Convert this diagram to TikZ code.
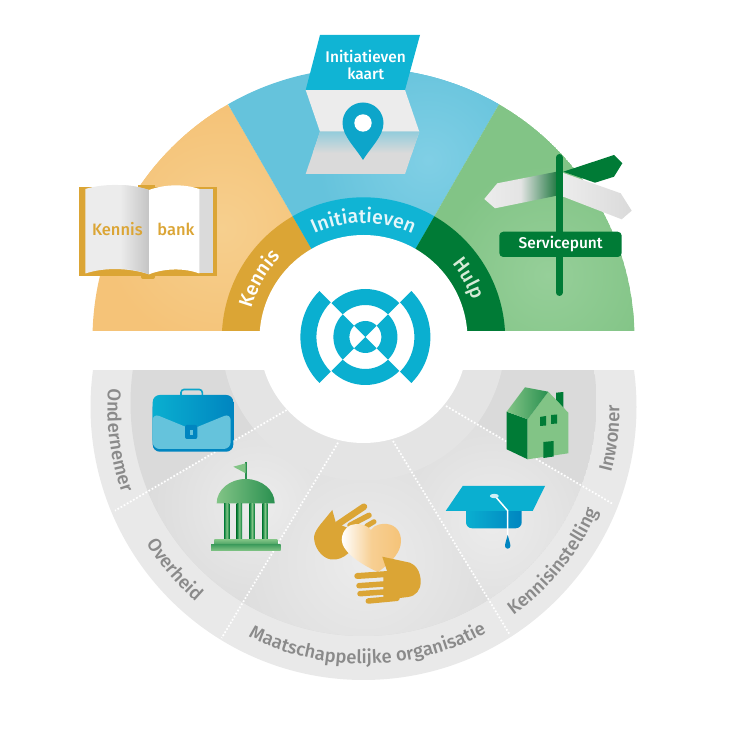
\documentclass[tikz,border=0pt]{standalone}
\usepackage{fontspec}
\setmainfont{Fira Sans Medium}
\usetikzlibrary{decorations.text}
\definecolor{orangeS}{HTML}{F5C378}
\definecolor{orangeL}{HTML}{F6CF8E}
\definecolor{blueS}{HTML}{65C3DC}
\definecolor{blueL}{HTML}{80CFE5}
\definecolor{greenS}{HTML}{82C486}
\definecolor{greenL}{HTML}{96CF99}
\definecolor{gold}{HTML}{DBA535}
\definecolor{cyanB}{HTML}{10B4D4}
\definecolor{logoC}{HTML}{0AAFD0}
\definecolor{darkG}{HTML}{007B36}
\definecolor{midG}{HTML}{2A9050}
\definecolor{deepB}{HTML}{0085C0}
\definecolor{pinB}{HTML}{0DA5CA}
\definecolor{grayA}{HTML}{E9E9E9}
\definecolor{grayB}{HTML}{DADADA}
\definecolor{grayC}{HTML}{E4E4E4}
\definecolor{grayS}{HTML}{ECECEC}
\definecolor{grayT}{HTML}{8A8A8A}
\definecolor{paleT}{HTML}{E4F6FA}
\definecolor{paleG}{HTML}{D5EBD6}
\newcommand{\sect}[3]{(363.5,339) -- +(#1:#3) arc[start angle=#1,end angle=#2,radius=#3] -- cycle}
\newcommand{\annu}[4]{(#1:#4) arc[start angle=#1,end angle=#2,radius=#4] -- (#2:#3) arc[start angle=#2,end angle=#1,radius=#3] -- cycle}
\newcommand{\glowsect}[7]{\begin{scope}\clip \sect{#1}{#2}{271};\fill[#3] \sect{#1}{#2}{271};\shade[inner color=#4,outer color=#3] (#5,#6) circle (#7);\end{scope}}
\newcommand{\glow}[3]{\shade[inner color=grayS,outer color=grayB] (#1,#2) circle (#3);}
\tikzset{
  dotline/.style={white,line width=1.7,dash pattern=on 1.7 off 1.9},
  finger/.style={gold,line cap=round},
  bandtext/.style={decorate,decoration={text along path,text align=center,text={#1}}},
}
\newcommand{\bandW}{\fontsize{19.5}{19.5}\selectfont\color{white}}
\newcommand{\bandP}{\fontsize{19.5}{19.5}\selectfont\color{paleT}}
\newcommand{\bandG}{\fontsize{19.5}{19.5}\selectfont\color{paleG}}
\newcommand{\lowT}{\fontsize{18.5}{18.5}\selectfont\color{grayT}}
\begin{document}
\begin{tikzpicture}[x=1pt,y=1pt]
\useasboundingbox (0,0) rectangle (732,732);
\begin{scope}[yscale=-1,shift={(0,-732)}]
% ---- top half
\begin{scope}
\clip (0,0) rectangle (732,331.5);
\glowsect{-180}{-120}{orangeS}{orangeL}{222}{228}{120}
\glowsect{-120}{-60}{blueS}{blueL}{428}{160}{110}
\glowsect{-60}{0}{greenS}{greenL}{548}{275}{110}
\fill[gold] \sect{-180}{-120}{141.7};
\fill[cyanB] \sect{-120}{-60}{141.7};
\fill[darkG] \sect{-60}{0}{141.7};
\end{scope}
% ---- bottom half
\begin{scope}
\clip (0,370) rectangle (732,732);
\fill[grayA] (363.5,407) circle (273);
\begin{scope}
\clip (363.5,403) circle (233);
\fill[grayB] (363.5,403) circle (233);
\begin{scope}
\clip (286.7,410) -- (115,510.7) -- (221.7,638) -- (338,442.7) -- cycle;
\glow{258}{505}{125}
\end{scope}
\begin{scope}
\clip (338,442.7) -- (221.7,638) -- (510,635) -- (393,441) -- cycle;
\glow{365}{560}{165}
\end{scope}
\begin{scope}
\clip (393,441) -- (510,635) -- (613,504) -- (446,406) -- cycle;
\glow{492}{522}{135}
\end{scope}
\end{scope}
\fill[grayC] (363.5,339) circle (141.7);
\end{scope}
\draw[dotline] (286.7,410) -- (115,510.7);
\draw[dotline] (338,442.7) -- (221.7,638);
\draw[dotline] (393,441) -- (510,635);
\draw[dotline] (446,406) -- (613,504);
\fill[white] (363.5,339) circle (104);
\fill[white] (0,331.5) rectangle (732,370);
% ---- logo
\begin{scope}[shift={(365.4,337)}]
\fill[logoC] \annu{-135}{-45}{0.01}{16};
\fill[logoC] \annu{45}{135}{0.01}{16};
\fill[logoC] \annu{-135}{-45}{32}{48};
\fill[logoC] \annu{45}{135}{32}{48};
\fill[logoC] \annu{-45}{45}{16}{32};
\fill[logoC] \annu{135}{225}{16}{32};
\fill[logoC] \annu{-45}{45}{49}{65};
\fill[logoC] \annu{135}{225}{49}{65};
\end{scope}
% ---- book
\fill[gold] (78.7,186.7) rectangle (216.7,276);
\fill[gold] (138,185) rectangle (155,190);
\fill[gold,rounded corners=2] (141,274) rectangle (155,279);
\fill[grayB] (199.3,189) rectangle (213.3,273.5);
\fill[grayS] (85.3,189) .. controls (105,183) and (130,184) .. (149,190) -- (149,274.3) .. controls (130,268) and (105,267) .. (85.3,273.5) -- cycle;
\shade[left color=grayS,right color=grayB!90!black] (120,185) .. controls (130,185) and (140,187) .. (149,190) -- (149,274.3) .. controls (140,271) and (130,269) .. (120,268.5) -- cycle;
\fill[white] (149,190) .. controls (165,184) and (185,184) .. (199.3,189) -- (199.3,273.5) .. controls (185,268) and (165,268) .. (149,274.3) -- cycle;
\node[gold,font=\fontsize{16.5}{16.5}\selectfont] (bookL) at (117.3,229) {Kennis};
\node[gold,font=\fontsize{16.5}{16.5}\selectfont] (bookR) at (176,229) {bank};
% ---- map
\fill[grayS] (305.7,90) -- (405,90) -- (419.3,131.7) -- (320,131.7) -- cycle;
\fill[grayB] (320,131.7) -- (419.3,131.7) -- (405,174) -- (305.7,174) -- cycle;
\shade[top color=blueS!60!grayB,bottom color=grayB] (320,131.7) -- (419.3,131.7) -- (412,153) -- (312.8,153) -- cycle;
\fill[cyanB] (320,35) -- (420,35) -- (405,90) -- (305.7,90) -- cycle;
\node[white,font=\fontsize{15.5}{15.5}\selectfont] (mapA) at (365.7,56) {Initiatieven};
\node[white,font=\fontsize{15.5}{15.5}\selectfont] (mapB) at (365.7,73.3) {kaart};
\fill[pinB] (363,160) .. controls (355,147) and (342.5,136) .. (342.5,123) arc[start angle=180,end angle=360,radius=20.5] .. controls (383.5,136) and (371,147) .. (363,160) -- cycle;
\fill[white] (363,123) circle (8.7);
% ---- signpost
\shade[left color=grayS,right color=grayB] (563.3,173) -- (620.7,193.3) -- (631.7,210.7) -- (621.7,219.3) -- (563.3,196.7) -- cycle;
\fill[darkG] (563.3,171.7) -- (614,155) -- (622.3,163.3) -- (614,176.7) -- (595,182.7) -- cycle;
\shade[left color=grayS,right color=midG!85!black,middle color=grayC] (556.7,171.7) -- (497.3,183.3) -- (484.3,199) -- (495,208.3) -- (556.7,195.7) -- cycle;
\draw[darkG,line width=7,line cap=round] (559.3,157.5) -- (559.3,292.5);
\fill[darkG,rounded corners=4] (499.3,231.7) rectangle (621.7,257);
\node[white,font=\fontsize{15.5}{15.5}\selectfont] (serv) at (560.7,244.3) {Servicepunt};
% ---- briefcase
\draw[pinB,line width=1.6,rounded corners=3] (181,396) -- (181,389.5) -- (202.3,389.5) -- (202.3,396);
\fill[deepB,rounded corners=7] (152.7,400) rectangle (233.3,451.7);
\shade[left color=logoC,right color=deepB,rounded corners=7] (152.7,395) rectangle (233.3,447);
\fill[blueS,rounded corners=7] (152.7,413.3) -- (191.7,429.3) -- (230.7,413.3) -- (230.7,449) -- (152.7,449) -- cycle;
\fill[deepB,rounded corners=2] (185,425) rectangle (197.3,439);
\fill[blueS] (189.5,430) rectangle (193,435);
% ---- building
\draw[midG,line width=1.7] (246,462) -- (246,482);
\fill[greenS] (245.7,463.3) -- (233.3,466.7) -- (245.7,473.3) -- cycle;
\shade[left color=greenS,right color=midG] (216.7,503.3) arc[start angle=180,end angle=360,x radius=29,y radius=24.3] -- cycle;
\foreach \xa in {224,236.7,249.3,262.3}{
  \shade[left color=darkG,right color=darkG,middle color=greenS] (\xa,503.3) rectangle ++(5.3,36);
}
\shade[top color=greenS,bottom color=midG!70!greenS] (214.3,539.3) rectangle (277.3,545);
\shade[top color=midG!70!greenS,bottom color=greenS] (211,545) rectangle (280.7,550.7);
% ---- hands and heart
\fill[gold] (332.3,510) -- (336,523.3) -- (353.3,530) -- (348.3,553.3) .. controls (343,558) and (338,560) .. (331,559.5) .. controls (322,558) and (314,548) .. (314,536.7) .. controls (315,531) and (318,528) .. (320,525) -- cycle;
\draw[finger,line width=6.5] (338.3,524) -- (364,506.7);
\draw[finger,line width=5.5] (350,525.3) -- (369,515.3);
\draw[finger,line width=5] (366.7,526) -- (374,521.7);
\shade[left color=white,right color=orangeS,middle color=orangeS!80!white] (371,530) .. controls (375,524) and (382,523.5) .. (387,524) .. controls (396,525) and (401,532) .. (401,541) .. controls (401,552) and (392,562) .. (378,572) .. controls (362,565) and (342,552) .. (341.7,540) .. controls (342,530) and (349,524) .. (356,524) .. controls (362,524) and (368,526) .. (371,530) -- cycle;
\fill[gold] (382.3,556.7) -- (410,562.7) .. controls (416,565) and (420.7,572) .. (420.7,581.7) .. controls (420.7,590) and (416,596) .. (408,597) -- (383.3,600) -- (383.3,571.7) -- (387,571) -- cycle;
\draw[finger,line width=6] (357.3,576) -- (388,574);
\draw[finger,line width=5.5] (359,585.7) -- (388,583.7);
\draw[finger,line width=5.5] (360,593.7) -- (388,591.7);
\draw[finger,line width=5.5] (368.3,601) -- (397,598.3);
% ---- house
\fill[darkG] (506.7,411.7) -- (527.7,419.3) -- (527.7,459.3) -- (506.7,449.3) -- cycle;
\fill[darkG] (556,392.7) -- (563.3,392) -- (563.3,408) -- (556,400) -- cycle;
\fill[greenS] (527.7,419.3) -- (548.3,391.7) -- (568.3,412.7) -- (568.3,453.3) -- (527.7,459.3) -- cycle;
\shade[left color=greenS,right color=midG] (506.7,411.7) -- (525,387.3) -- (548.3,391.7) -- (527.7,419.3) -- cycle;
\fill[darkG] (540,417) -- (546,416) -- (546,425.5) -- (540,426) -- cycle;
\fill[darkG] (551,415) -- (557,414.5) -- (557,423.5) -- (551,424) -- cycle;
\fill[darkG] (543.3,442) -- (553.7,441) -- (553.7,456.5) -- (543.3,458) -- cycle;
% ---- cap
\shade[left color=logoC,right color=deepB,rounded corners=6] (466,505) rectangle (521.7,528.3);
\fill[logoC] (462.7,486) -- (545,486) -- (532.7,511) -- (445.7,511) -- cycle;
\draw[white,line width=1.5] (495,496) -- (507.7,510.7) -- (507.7,536);
\fill[white!80!logoC] (494.3,496) ellipse (4.5 and 2.2);
\fill[deepB] (507.7,535) .. controls (506,541) and (505,544) .. (505,546) arc[start angle=180,end angle=0,radius=2.7] .. controls (510.4,544) and (509.4,541) .. (507.7,535) -- cycle;
\end{scope}
% ---- curved labels (upper arcs, centre 363.5,393)
\path[bandtext={|\bandW|Kennis}] (363.5,393) ++(180:116) arc[start angle=180,end angle=120,radius=116];
\path[bandtext={|\bandP|Initiatieven}] (363.5,393) ++(120:116) arc[start angle=120,end angle=60,radius=116];
\path[bandtext={|\bandG|Hulp}] (363.5,393) ++(60:116) arc[start angle=60,end angle=0,radius=116];
% ---- curved labels (lower band, centre 363.5,324)
\path[bandtext={|\lowT|Ondernemer}] (363.5,324) ++(165:256) arc[start angle=165,end angle=210,radius=256];
\path[bandtext={|\lowT|Overheid}] (363.5,324) ++(198:256) arc[start angle=198,end angle=243,radius=256];
\path[bandtext={|\lowT|Maatschappelijke organisatie}] (363.5,324) ++(231:256) arc[start angle=231,end angle=311,radius=256];
\path[bandtext={|\lowT|Kennisinstelling}] (363.5,324) ++(291:256) arc[start angle=291,end angle=351,radius=256];
\path[bandtext={|\lowT|Inwoner}] (363.5,324) ++(335:256) arc[start angle=335,end angle=371,radius=256];
\end{tikzpicture}
\end{document}
